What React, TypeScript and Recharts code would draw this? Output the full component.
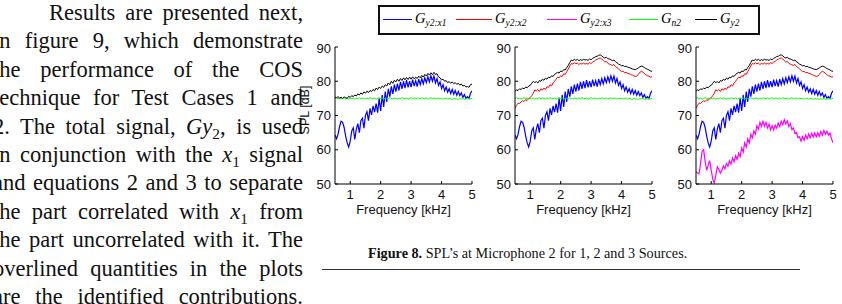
import { LineChart, Line, XAxis, YAxis } from "recharts";

// frequency grid in kHz
const freq = [
  0.5, 0.55, 0.6, 0.65, 0.7, 0.75, 0.8, 0.85, 0.9, 0.95,
  1.0, 1.05, 1.1, 1.15, 1.2, 1.25, 1.3, 1.35, 1.4, 1.45,
  1.5, 1.55, 1.6, 1.65, 1.7, 1.75, 1.8, 1.85, 1.9, 1.95,
  2.0, 2.05, 2.1, 2.15, 2.2, 2.25, 2.3, 2.35, 2.4, 2.45,
  2.5, 2.55, 2.6, 2.65, 2.7, 2.75, 2.8, 2.85, 2.9, 2.95,
  3.0, 3.05, 3.1, 3.15, 3.2, 3.25, 3.3, 3.35, 3.4, 3.45,
  3.5, 3.55, 3.6, 3.65, 3.7, 3.75, 3.8, 3.85, 3.9, 3.95,
  4.0, 4.05, 4.1, 4.15, 4.2, 4.25, 4.3, 4.35, 4.4, 4.45,
  4.5, 4.55, 4.6, 4.65, 4.7, 4.75, 4.8, 4.85, 4.9, 4.95,
  5.0,
];

// G_y2:x1 (blue), same in all panels
const gy2x1 = [
  64.3, 63.2, 64.5, 66.8, 68.3, 68.0, 66.5, 64.0, 62.0, 60.8,
  62.5, 65.5, 66.4, 63.0, 66.0, 67.6, 65.0, 68.5, 69.2, 66.3,
  70.0, 71.1, 68.5, 72.1, 70.2, 72.8, 71.0, 73.5, 70.8, 75.0,
  71.3, 76.0, 72.5, 77.0, 74.0, 77.8, 75.5, 78.5, 76.3, 79.0,
  77.0, 79.3, 77.3, 79.8, 77.8, 80.0, 78.0, 80.3, 78.2, 80.0,
  78.3, 80.5, 78.6, 80.2, 78.4, 80.6, 79.0, 80.8, 79.2, 81.0,
  79.6, 81.3, 79.8, 81.6, 80.0, 81.5, 79.5, 80.8, 78.8, 79.8,
  77.9, 79.0, 77.2, 78.3, 76.8, 77.8, 76.4, 77.6, 76.2, 77.3,
  75.9, 77.0, 75.8, 76.6, 75.3, 76.1, 75.0, 75.5, 74.9, 76.5,
  77.2,
];

// G_y2:x2 (red), panels 2 and 3
const gy2x2 = [
  72.1, 73.0, 73.6, 73.5, 74.0, 74.3, 74.1, 74.6, 74.4, 75.0,
  75.2, 75.8, 76.5, 77.5, 77.2, 77.6, 77.0, 77.8, 77.4, 78.0,
  77.6, 78.4, 78.2, 79.0, 78.6, 79.5, 80.0, 80.6, 81.2, 81.0,
  81.6, 81.4, 82.2, 82.0, 82.8, 83.6, 84.5, 85.2, 85.0, 85.4,
  85.1, 85.3, 84.9, 85.2, 85.0, 85.3, 85.0, 85.2, 85.0, 85.4,
  85.2, 85.6, 85.8, 86.2, 86.4, 86.7, 86.8, 86.5, 86.0, 85.6,
  85.8, 85.2, 85.0, 84.8, 84.6, 84.9, 84.3, 84.0, 83.6, 83.2,
  82.8, 82.9, 82.5, 82.6, 82.3, 82.2, 82.0, 81.8, 81.6, 81.4,
  81.5, 82.0, 82.6, 82.9, 82.7, 82.3, 81.9, 81.6, 81.5, 81.2,
  81.3,
];

// G_y2:x3 (magenta), panel 3
const gy2x3 = [
  53.6, 53.2, 53.0, 56.0, 59.5, 60.0, 56.5, 54.0, 55.5, 56.8,
  54.0, 51.5, 50.3, 52.5, 55.0, 54.2, 53.2, 54.0, 55.3, 54.4,
  56.0, 55.2, 56.8, 55.8, 57.6, 56.5, 58.3, 57.2, 59.0, 58.0,
  60.5, 59.3, 62.0, 60.8, 63.2, 62.0, 64.5, 63.5, 65.5, 64.6,
  67.0, 66.0, 68.0, 66.8, 68.3, 66.9, 68.0, 66.4, 67.5, 65.8,
  67.0, 65.8, 67.2, 66.3, 67.8, 66.8, 68.3, 67.3, 68.8, 67.5,
  68.4, 66.8, 67.6, 65.9, 66.3, 64.8, 65.0, 63.5, 63.8, 62.5,
  63.8, 62.8, 64.3, 63.2, 64.6, 63.5, 64.8, 63.7, 64.9, 63.8,
  65.0, 63.9, 65.3, 64.2, 65.6, 64.5, 65.4, 64.3, 64.9, 63.2,
  62.0,
];

// G_n2 (green)
const gn2 = [
  75.0, 75.2, 74.9, 75.1, 74.8, 75.0, 75.2, 74.9, 75.1, 74.8,
  75.0, 74.9, 75.1, 74.8, 75.0, 74.9, 75.2, 74.9, 75.1, 75.0,
  74.8, 75.1, 74.9, 75.2, 75.0, 74.9, 75.1, 74.8, 75.0, 75.2,
  74.9, 75.1, 75.0, 74.8, 75.1, 74.9, 75.2, 75.0, 74.9, 75.1,
  75.0, 74.8, 75.1, 74.9, 75.2, 75.0, 74.9, 75.1, 74.8, 75.0,
  75.2, 74.9, 75.1, 75.0, 74.8, 75.1, 74.9, 75.2, 75.0, 74.9,
  75.1, 74.8, 75.0, 75.2, 74.9, 75.1, 75.0, 74.8, 75.1, 74.9,
  75.0, 74.8, 74.9, 75.1, 74.8, 75.0, 74.9, 74.7, 75.0, 74.8,
  74.9, 74.7, 74.9, 74.8, 75.0, 74.7, 74.9, 74.8, 75.0, 74.9,
  75.0,
];

// G_y2 (black), 1 source
const gy2One = [
  75.4, 75.2, 75.5, 75.1, 75.3, 75.0, 75.4, 75.2, 75.0, 75.6,
  75.3, 75.8, 75.5, 76.0, 75.7, 76.3, 76.0, 76.6, 76.2, 76.9,
  76.5, 77.1, 76.7, 77.3, 77.0, 77.6, 77.2, 78.0, 77.6, 78.3,
  77.9, 78.6, 78.2, 79.0, 78.6, 79.5, 79.0, 80.0, 79.4, 80.3,
  79.8, 80.6, 80.0, 80.8, 80.2, 81.0, 80.4, 81.1, 80.5, 81.2,
  80.6, 81.3, 80.7, 81.2, 80.8, 81.5, 81.0, 81.7, 81.2, 82.0,
  81.5, 82.3, 81.8, 82.5, 81.9, 82.6, 82.0, 82.2, 81.3, 81.0,
  80.4, 80.6, 80.0, 80.2, 79.6, 79.9, 79.4, 79.8, 79.3, 79.6,
  79.1, 79.4, 78.9, 79.2, 78.6, 78.8, 78.3, 78.5, 78.2, 79.0,
  79.2,
];

// G_y2 (black), 2 and 3 sources
const gy2Multi = [
  77.0, 77.5, 77.3, 77.8, 77.6, 78.0, 77.8, 78.3, 78.1, 78.6,
  78.8, 79.4, 80.0, 79.6, 79.9, 79.5, 80.2, 80.0, 80.6, 80.3,
  80.9, 80.6, 81.2, 81.0, 81.6, 81.4, 82.0, 82.3, 82.6, 82.4,
  83.0, 82.8, 83.4, 83.3, 84.0, 84.6, 85.5, 86.2, 86.0, 86.4,
  86.1, 86.4, 86.0, 86.3, 86.1, 86.4, 86.2, 86.3, 86.1, 86.5,
  86.3, 86.7, 86.9, 87.2, 87.3, 87.6, 87.7, 87.4, 87.0, 86.8,
  87.0, 86.6, 86.5, 86.3, 86.0, 86.2, 85.7, 85.4, 85.0, 84.8,
  84.5, 84.6, 84.3, 84.4, 84.1, 84.0, 83.8, 83.6, 83.5, 83.4,
  83.6, 83.9, 84.2, 84.4, 84.3, 84.0, 83.7, 83.5, 83.3, 83.0,
  82.9,
];

const freqTicks = [1, 2, 3, 4, 5];
const splTicks = [50, 60, 70, 80, 90];

const BLUE = "#0000ff";
const RED = "#ff0000";
const MAGENTA = "#ff00ff";
const GREEN = "#00ff00";
const BLACK = "#000000";

const sans = "'Liberation Sans', Arial, sans-serif";
const serif = "'Liberation Serif', 'Times New Roman', serif";
const tickStyle = { fontSize: 13, fill: "#111", fontFamily: sans };

function Panel({ left, total, red, magenta }: { left: number; total: number[]; red?: boolean; magenta?: boolean }) {
  const rows = freq.map((f, i) => ({
    f,
    x1: gy2x1[i],
    x2: gy2x2[i],
    x3: gy2x3[i],
    n2: gn2[i],
    y2: total[i],
  }));
  return (
    <div style={{ position: "absolute", left, top: 40 }}>
      <LineChart width={182} height={180} data={rows} margin={{ top: 7, right: 5, left: 0, bottom: 0 }}>
        <XAxis
          xAxisId="b"
          type="number"
          dataKey="f"
          domain={[0.5, 5]}
          ticks={freqTicks}
          allowDataOverflow
          height={36}
          tickSize={-3}
          tickMargin={9}
          tick={tickStyle}
          stroke="#000"
          label={{ value: "Frequency [kHz]", position: "insideBottom", offset: 6, style: { fontSize: 13, fill: "#111", fontFamily: sans } }}
        />
        <XAxis
          xAxisId="t"
          orientation="top"
          type="number"
          dataKey="f"
          domain={[0.5, 5]}
          ticks={freqTicks}
          allowDataOverflow
          height={0}
          tickSize={-3}
          tickFormatter={() => ""}
          stroke="#000"
        />
        <YAxis
          yAxisId="l"
          type="number"
          domain={[50, 90]}
          ticks={splTicks}
          allowDataOverflow
          width={40}
          tickSize={-3}
          tickMargin={7}
          tick={tickStyle}
          stroke="#000"
        />
        <YAxis
          yAxisId="r"
          orientation="right"
          type="number"
          domain={[50, 90]}
          ticks={splTicks}
          allowDataOverflow
          width={0}
          tickSize={-3}
          tickFormatter={() => ""}
          stroke="#000"
        />
        <Line xAxisId="b" yAxisId="l" dataKey="x1" stroke={BLUE} strokeWidth={1.2} dot={false} isAnimationActive={false} />
        {red && <Line xAxisId="b" yAxisId="l" dataKey="x2" stroke={RED} strokeWidth={1} dot={false} isAnimationActive={false} />}
        {magenta && <Line xAxisId="b" yAxisId="l" dataKey="x3" stroke={MAGENTA} strokeWidth={1.2} dot={false} isAnimationActive={false} />}
        <Line xAxisId="b" yAxisId="l" dataKey="n2" stroke={GREEN} strokeWidth={1} dot={false} isAnimationActive={false} />
        <Line xAxisId="b" yAxisId="l" dataKey="y2" stroke={BLACK} strokeWidth={1} dot={false} isAnimationActive={false} />
      </LineChart>
    </div>
  );
}

const legendItems = [
  { color: BLUE, x0: 383, x1: 412, sub: "y2:x1" },
  { color: RED, x0: 456, x1: 492, sub: "y2:x2" },
  { color: MAGENTA, x0: 547, x1: 577, sub: "y2:x3" },
  { color: GREEN, x0: 629, x1: 658, sub: "n2" },
  { color: BLACK, x0: 695, x1: 717, sub: "y2" },
];

const subStyle = { fontSize: "0.68em", verticalAlign: "-0.3em", lineHeight: 0 } as const;

const paragraph = [
  <>Results are presented next,</>,
  <>in figure 9, which demonstrate</>,
  <>the performance of the COS</>,
  <>technique for Test Cases 1 and</>,
  <>2. The total signal, <i>Gy</i><sub style={subStyle}>2</sub>, is used</>,
  <>in conjunction with the <i>x</i><sub style={subStyle}>1</sub> signal</>,
  <>and equations 2 and 3 to separate</>,
  <>the part correlated with <i>x</i><sub style={subStyle}>1</sub> from</>,
  <>the part uncorrelated with it. The</>,
  <>overlined quantities in the plots</>,
  <>are the identified contributions.</>,
];

export default function App() {
  return (
    <div style={{ position: "absolute", left: 0, top: 0, width: 842, height: 304, overflow: "hidden", background: "#fff" }}>
      {/* y label of first panel */}
      <div
        style={{
          position: "absolute",
          left: 305,
          top: 110,
          transform: "translate(-50%, -50%) rotate(-90deg)",
          fontFamily: sans,
          fontSize: 12.5,
          color: "#111",
          whiteSpace: "nowrap",
        }}
      >
        SPL [dB]
      </div>

      <Panel left={295} total={gy2One} />
      <Panel left={475} total={gy2Multi} red />
      <Panel left={656} total={gy2Multi} red magenta />

      {/* legend */}
      <div style={{ position: "absolute", left: 378, top: 5, width: 378, height: 26, border: "2px solid #111" }} />
      {legendItems.map((it) => (
        <div key={it.sub}>
          <div style={{ position: "absolute", left: it.x0, top: 19, width: it.x1 - it.x0, height: 0, borderTop: `1px solid ${it.color}` }} />
          <div
            style={{
              position: "absolute",
              left: it.x1 + 3,
              top: 10,
              fontFamily: serif,
              fontStyle: "italic",
              fontSize: 14.5,
              lineHeight: "16px",
              whiteSpace: "nowrap",
              color: "#000",
            }}
          >
            G<span style={{ fontSize: 9.5, position: "relative", top: 3 }}>{it.sub}</span>
          </div>
        </div>
      ))}

      {/* body text */}
      <div style={{ position: "absolute", left: -7, top: -1, width: 310, fontFamily: serif, fontSize: 22.5, color: "#111" }}>
        {paragraph.map((ln, i) => (
          <div
            key={i}
            style={{
              height: 28.4,
              lineHeight: "28.4px",
              textAlign: "justify",
              textAlignLast: "justify",
              paddingLeft: i === 0 ? 56 : 0,
              whiteSpace: "nowrap",
            }}
          >
            {ln}
          </div>
        ))}
      </div>

      {/* caption */}
      <div style={{ position: "absolute", left: 368, top: 245, fontFamily: serif, fontSize: 14.2, whiteSpace: "nowrap", color: "#111" }}>
        <b>Figure 8.</b> SPL’s at Microphone 2 for 1, 2 and 3 Sources.
      </div>
      <div style={{ position: "absolute", left: 322, top: 269, width: 478, height: 0, borderTop: "1px solid #333" }} />
    </div>
  );
}
